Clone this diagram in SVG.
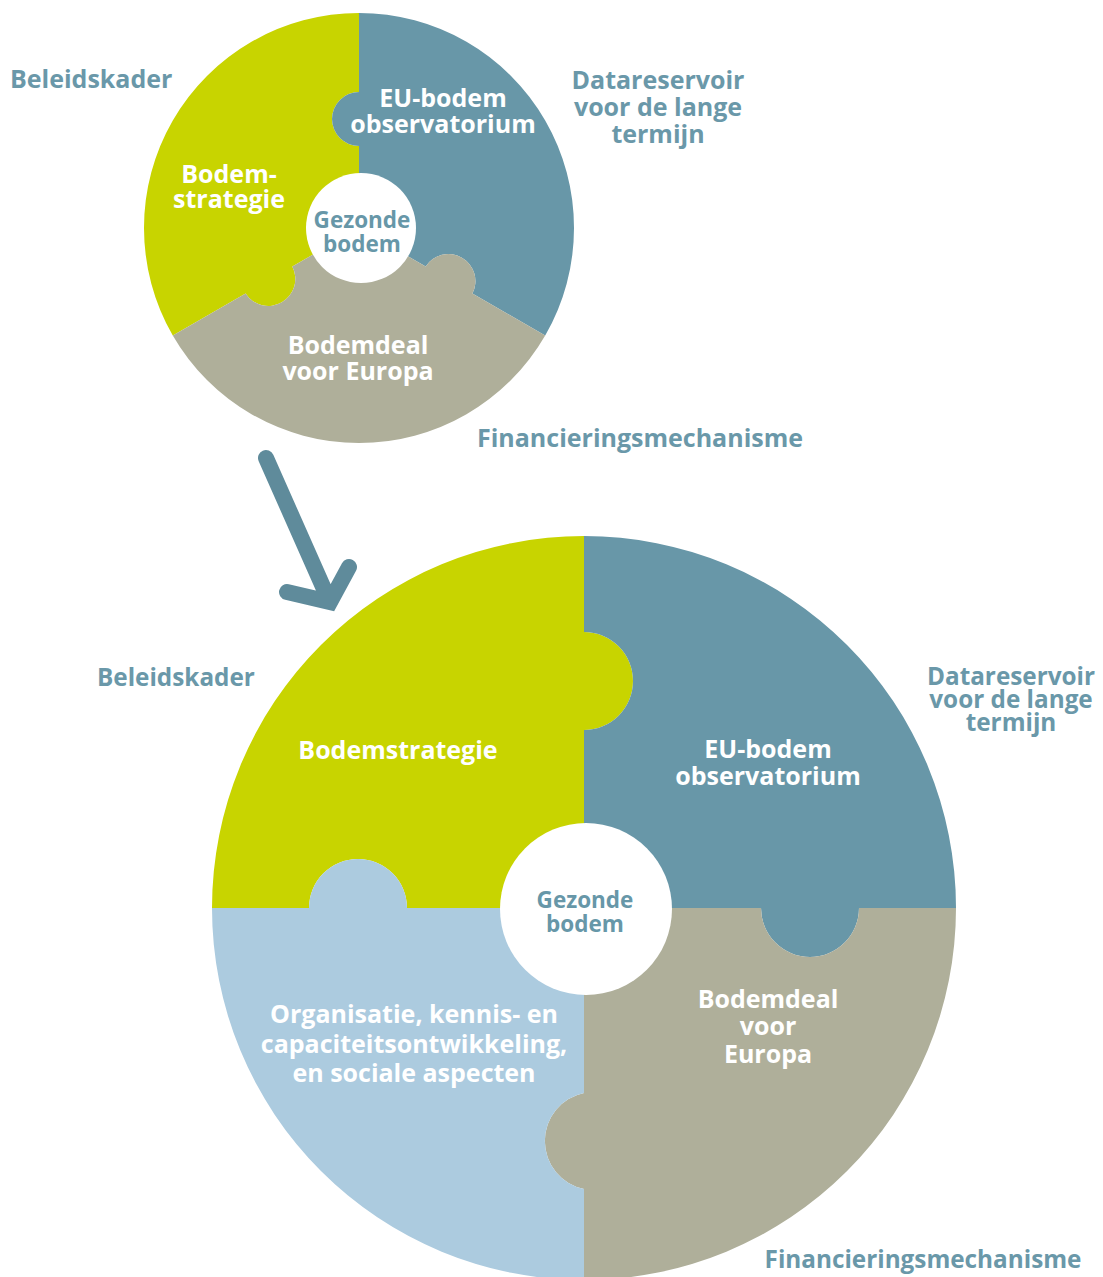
<svg xmlns="http://www.w3.org/2000/svg" width="1103" height="1277" viewBox="0 0 1103 1277">
<style>
.green{fill:#C8D400}
.blue{fill:#6897A8}
.tan{fill:#AFAF9A}
.lblue{fill:#ACCBDF}
.hole{fill:#FFFFFF}
text{font-family:"Open Sans","Noto Sans","Liberation Sans",sans-serif;font-weight:700}
.lbl{fill:#6A98A9;font-size:25px}
.lbl2{fill:#6A98A9;font-size:24.3px}
.in{fill:#FFFFFF;font-size:25px;text-anchor:middle}
.core{fill:#6797A8;font-size:22.5px;text-anchor:middle}
.mid{text-anchor:middle}
.arrow{fill:none;stroke:#5F8B9B;stroke-width:16;stroke-linecap:round;stroke-linejoin:miter}
</style>
<rect width="1103" height="1277" fill="#FFFFFF"/>

<!-- Top puzzle -->
<g id="top-bodemstrategie">
<path class="green" d="M359,228 L359,146 A27,27 0 0 1 359,92 L359,13 A215,215 0 0 0 172.8,335.5 L245.6,293.5 A27,27 0 0 0 292.3,266.5 Z"/>
<text class="in" x="229" y="183">Bodem-</text>
<text class="in" x="229" y="208">strategie</text>
</g>
<g id="top-observatorium">
<path class="blue" d="M359,228 L359,146 A27,27 0 0 1 359,92 L359,13 A215,215 0 0 1 545.2,335.5 L472.4,293.5 A27,27 0 0 0 425.7,266.5 Z"/>
<text class="in" x="443" y="107">EU-bodem</text>
<text class="in" x="443" y="133">observatorium</text>
</g>
<g id="top-bodemdeal">
<path class="tan" d="M359,228 L425.7,266.5 A27,27 0 0 1 472.4,293.5 L545.2,335.5 A215,215 0 0 1 172.8,335.5 L245.6,293.5 A27,27 0 0 0 292.3,266.5 Z"/>
<text class="in" x="358" y="354">Bodemdeal</text>
<text class="in" x="358" y="380">voor Europa</text>
</g>
<g id="top-gezonde-bodem">
<circle class="hole" cx="361" cy="228" r="55"/>
<text class="core" x="362" y="228">Gezonde</text>
<text class="core" x="362" y="252">bodem</text>
</g>
<g id="top-labels">
<text class="lbl" x="10" y="88">Beleidskader</text>
<text class="lbl mid" x="658" y="89">Datareservoir</text>
<text class="lbl mid" x="658" y="116">voor de lange</text>
<text class="lbl mid" x="658" y="143">termijn</text>
<text class="lbl mid" x="640" y="447">Financieringsmechanisme</text>
</g>

<!-- Bottom puzzle -->
<g id="bottom-bodemstrategie">
<path class="green" d="M584,908 L584,730 A49,49 0 0 0 584,632 L584,536 A372,372 0 0 0 212,908 L309,908 A49,49 0 0 1 407,908 Z"/>
<text class="in" x="398" y="759">Bodemstrategie</text>
</g>
<g id="bottom-observatorium">
<path class="blue" d="M584,908 L584,730 A49,49 0 0 0 584,632 L584,536 A372,372 0 0 1 956,908 L859,908 A49,49 0 0 1 761,908 Z"/>
<text class="in" x="768" y="758">EU-bodem</text>
<text class="in" x="768" y="785">observatorium</text>
</g>
<g id="bottom-bodemdeal">
<path class="tan" d="M584,908 L761,908 A49,49 0 0 0 859,908 L956,908 A372,372 0 0 1 584,1280 L584,1189 A49,49 0 0 1 584,1093 Z"/>
<text class="in" x="768" y="1008">Bodemdeal</text>
<text class="in" x="768" y="1035">voor</text>
<text class="in" x="768" y="1063">Europa</text>
</g>
<g id="bottom-organisatie">
<path class="lblue" d="M584,908 L584,1093 A49,49 0 0 0 584,1189 L584,1280 A372,372 0 0 1 212,908 L309,908 A49,49 0 0 1 407,908 Z"/>
<text class="in" x="414" y="1023">Organisatie, kennis- en</text>
<text class="in" x="414" y="1053">capaciteitsontwikkeling,</text>
<text class="in" x="414" y="1082">en sociale aspecten</text>
</g>
<g id="bottom-gezonde-bodem">
<circle class="hole" cx="586" cy="909" r="86"/>
<text class="core" x="585" y="908">Gezonde</text>
<text class="core" x="585" y="932">bodem</text>
</g>
<g id="bottom-labels">
<text class="lbl2" x="97" y="686">Beleidskader</text>
<text class="lbl2 mid" x="1011" y="685">Datareservoir</text>
<text class="lbl2 mid" x="1011" y="708">voor de lange</text>
<text class="lbl2 mid" x="1011" y="731">termijn</text>
<text class="lbl2 mid" x="923" y="1268">Financieringsmechanisme</text>
</g>

<!-- Connectors -->
<g id="connectors">
<path class="arrow" d="M266,458 L328,598 M287,592 L330,602 L349,567"/>
</g>
</svg>
